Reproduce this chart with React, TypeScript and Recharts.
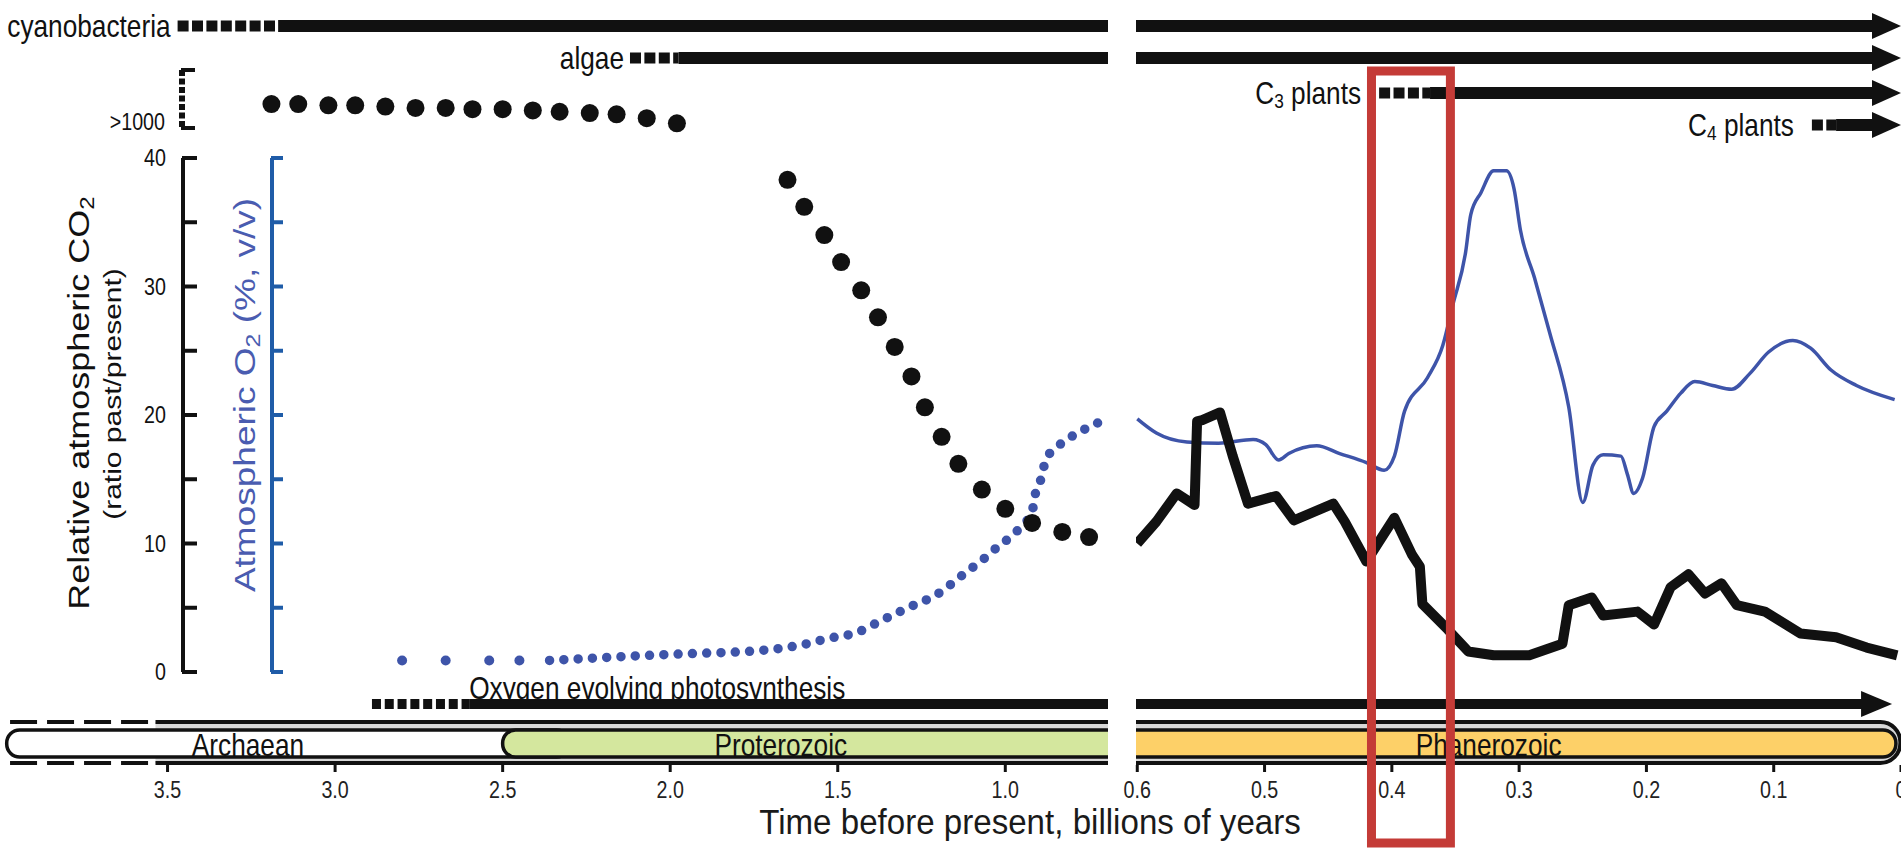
import { ComposedChart, LineChart, Line, Scatter, XAxis, YAxis, ReferenceLine, ReferenceArea, ReferenceDot, Label } from 'recharts'

const W = 1901
const H = 848
const SANS = "'Liberation Sans', Arial, Helvetica, sans-serif"
const SQUEEZE = 0.82 // the source figure is narrowed horizontally
const INK = '#111'
const O2_BLUE = '#3e54a9'
const AXIS_BLUE = '#1f5ca8'
const TITLE_BLUE = '#4a5cb0'
const RED = '#c43b37'
const GREEN = '#d4e79e'
const ORANGE = '#fdd068'
const BAND = '#d8d8d8'

// ---- data, time in billions of years before present ----

// Precambrian CO2 drawn above the axis break (">1000")
const co2HighTime = [3.19, 3.11, 3.02, 2.94, 2.85, 2.76, 2.67, 2.59, 2.5, 2.41, 2.33, 2.24, 2.16, 2.07, 1.98]
const co2HighPlot = [44.2, 44.2, 44.1, 44.1, 44.0, 43.9, 43.9, 43.8, 43.8, 43.7, 43.6, 43.5, 43.4, 43.1, 42.7]

// Precambrian CO2 decline (ratio past/present)
const co2DropTime = [1.65, 1.6, 1.54, 1.49, 1.43, 1.38, 1.33, 1.28, 1.24, 1.19, 1.14, 1.07, 1.0, 0.92, 0.83, 0.75]
const co2Drop = [38.3, 36.2, 34.0, 31.9, 29.7, 27.6, 25.3, 23.0, 20.6, 18.3, 16.2, 14.2, 12.7, 11.6, 10.9, 10.5]

// Precambrian O2 (%): scattered early points, then the rise
const o2EarlyTime = [2.8, 2.67, 2.54, 2.45]
const o2Early = [0.9, 0.9, 0.9, 0.9]
const o2RiseTime = [2.36, 2.06, 1.97, 1.72, 1.61, 1.53, 1.44, 1.37, 1.29, 1.2, 1.13, 1.06, 1.02, 0.98, 0.95, 0.92, 0.91, 0.89, 0.88, 0.85, 0.81, 0.77, 0.73, 0.71]
const o2Rise = [0.9, 1.3, 1.4, 1.7, 2.1, 2.6, 3.1, 4.0, 5.0, 6.1, 7.5, 8.9, 9.8, 10.6, 11.4, 12.5, 13.9, 15.3, 16.5, 17.4, 18.2, 18.8, 19.3, 19.6]

// Phanerozoic O2 (%)
const phanO2Time = [0.6, 0.585, 0.561, 0.536, 0.509, 0.499, 0.489, 0.481, 0.459, 0.441, 0.42, 0.406, 0.398, 0.39, 0.372, 0.36, 0.352, 0.342, 0.338, 0.33, 0.32, 0.31, 0.304, 0.299, 0.288, 0.276, 0.261, 0.25, 0.242, 0.234, 0.22, 0.215, 0.21, 0.203, 0.194, 0.184, 0.173, 0.162, 0.148, 0.133, 0.119, 0.104, 0.085, 0.071, 0.055, 0.035, 0.005]
const phanO2 = [19.7, 18.6, 17.9, 17.8, 18.1, 17.7, 16.5, 17.0, 17.6, 17.0, 16.3, 15.7, 16.8, 20.3, 22.9, 25.4, 28.6, 32.7, 35.6, 37.3, 39.0, 39.0, 37.6, 34.4, 30.7, 26.4, 20.6, 13.2, 16.1, 16.9, 16.8, 15.4, 13.9, 15.1, 19.1, 20.3, 21.7, 22.6, 22.3, 22.0, 23.2, 24.9, 25.8, 25.2, 23.5, 22.3, 21.2]

// Phanerozoic CO2 (ratio past/present)
const phanCo2Time = [0.6, 0.585, 0.569, 0.555, 0.553, 0.549, 0.535, 0.525, 0.513, 0.491, 0.477, 0.446, 0.437, 0.42, 0.411, 0.398, 0.384, 0.378, 0.376, 0.356, 0.34, 0.32, 0.292, 0.266, 0.261, 0.243, 0.234, 0.207, 0.194, 0.181, 0.167, 0.154, 0.141, 0.129, 0.107, 0.079, 0.051, 0.027, 0.003]
const phanCo2 = [10.0, 11.7, 13.9, 13.0, 19.5, 19.6, 20.2, 16.8, 13.1, 13.7, 11.8, 13.1, 11.7, 8.6, 10.0, 12.0, 9.1, 8.2, 5.3, 3.3, 1.6, 1.3, 1.3, 2.2, 5.2, 5.8, 4.4, 4.7, 3.7, 6.6, 7.6, 6.1, 6.9, 5.2, 4.7, 3.0, 2.7, 1.9, 1.3]

// lineages (dotted = uncertain origin, solid = present since)
const lineageNames = ['cyanobacteria', 'algae', 'C3 plants', 'C4 plants']
const lineageDottedFrom = [3.47, 2.12, 0.41, 0.07]
const lineageSolidFrom = [3.17, 1.975, 0.37, 0.051]
const oxyName = 'Oxygen evolving photosynthesis'
const oxyDottedFrom = 2.89
const oxySolidFrom = 2.6

const eonNames = ['Archaean', 'Proterozoic', 'Phanerozoic']
const eonFrom = [3.98, 2.5, 0.6]
const eonTo = [2.5, 0.6, 0.004]
const eonLabelAt = [3.26, 1.67, 0.324]

const leftTicks = [3.5, 3.0, 2.5, 2.0, 1.5, 1.0]
const rightTicks = [0.6, 0.5, 0.4, 0.3, 0.2, 0.1, 0]
const valueTicks = [0, 5, 10, 15, 20, 25, 30, 35, 40]
const highlight = [0.416, 0.354]

// ---- layout ----
const PLOT_H = 765
const Y_ZERO = 672
const Y_FORTY = 158
const PER = (Y_ZERO - Y_FORTY) / 40
const row = (px: number) => (Y_ZERO - px) / PER
const Y_DOMAIN: [number, number] = [row(PLOT_H), row(0)]

const LEFT_W = 1108
const LEFT_PER_GY = 335.1
const LEFT_DOMAIN: [number, number] = [4 - LEFT_W / LEFT_PER_GY, 4]
const RIGHT_SVG_X = 1110
const RIGHT_PAD = 26 // plot of the right panel starts at x = 1136
const RIGHT_W = W - RIGHT_SVG_X
const RIGHT_DOMAIN: [number, number] = [0, 0.601]

const CO2_AXIS_X = 183
const O2_AXIS_X = 272

const lineageRows = [row(26), row(58), row(93), row(125)]
const lineageGap = [7, 6, 18, 18]
const oxyRow = row(704)
const frame = { outerTop: row(722), innerTop: row(730), innerBottom: row(757), outerBottom: row(763) }
const eonLabelRow = row(756)
const FRAME_DASH_FROM = 3.97
const FRAME_SOLID_FROM = 3.536
const ARROW_TAIL = 0.02
const OXY_TAIL = 0.028

const pts = (t: number[], v: number[]) => t.map((x, i) => ({ t: x, v: v[i] }))
const fmtTime = (v: number) => (v === 0 ? '0' : v.toFixed(1))

function span(from: number, to: number, [lo, hi]: [number, number]) {
  const a = Math.min(from, hi)
  const b = Math.max(to, lo)
  return a > b ? [a, b] : null
}
const inside = (t: number, [lo, hi]: [number, number]) => t >= lo && t <= hi

// horizontal text, narrowed like the source
function Txt({ x, y, size, anchor = 'start', fill = INK, baseline, squeeze = SQUEEZE, children }: any) {
  return (
    <text
      transform={`translate(${x} ${y}) scale(${squeeze} 1)`}
      textAnchor={anchor}
      dominantBaseline={baseline}
      fontFamily={SANS}
      fontSize={size}
      fill={fill}
    >
      {children}
    </text>
  )
}

// vertical text reading upwards, glyphs narrowed across
function VTxt({ x, y, size, fill = INK, children }: any) {
  return (
    <text transform={`translate(${x} ${y}) rotate(-90) scale(1 ${SQUEEZE})`} textAnchor="middle" fontFamily={SANS} fontSize={size} fill={fill}>
      {children}
    </text>
  )
}

const dot = (r: number, fill: string) => (p: any) => <circle cx={p.cx} cy={p.cy} r={r} fill={fill} />

const roundBox = (rx: number, fill: string, sw: number) => (p: any) => (
  <rect x={p.x} y={p.y} width={p.width} height={p.height} rx={rx} ry={rx} fill={fill} stroke={INK} strokeWidth={sw} />
)

// bar with separately rounded ends; a flat end (radius 0) is left open, as where the panels break
const capsule = (fill: string, sw: number, rl: number, rr: number) => (p: any) => {
  const { x, y } = p
  const w = p.width
  const h = p.height
  const L = Math.min(rl, h / 2)
  const R = Math.min(rr, h / 2)
  const body =
    `M${x + L},${y} H${x + w - R}` +
    (R ? ` A${R},${R} 0 0 1 ${x + w},${y + R} V${y + h - R} A${R},${R} 0 0 1 ${x + w - R},${y + h}` : ` V${y + h}`) +
    ` H${x + L}` +
    (L ? ` A${L},${L} 0 0 1 ${x},${y + h - L} V${y + L} A${L},${L} 0 0 1 ${x + L},${y}` : ` V${y}`) +
    ' Z'
  let edge = L ? `M${x},${y + h - L} V${y + L} A${L},${L} 0 0 1 ${x + L},${y}` : `M${x},${y}`
  edge += ` H${x + w - R}`
  edge += R ? ` A${R},${R} 0 0 1 ${x + w},${y + R} V${y + h - R} A${R},${R} 0 0 1 ${x + w - R},${y + h}` : ` M${x + w},${y + h}`
  edge += ` H${x + L}`
  if (L) edge += ` A${L},${L} 0 0 1 ${x},${y + h - L}`
  return (
    <g>
      <path d={body} fill={fill} stroke="none" />
      {sw ? <path d={edge} fill="none" stroke={INK} strokeWidth={sw} /> : null}
    </g>
  )
}

const arrowHead = (len: number, half: number) => (p: any) => (
  <polygon points={`${p.cx},${p.cy} ${p.cx - len},${p.cy - half} ${p.cx - len},${p.cy + half}`} fill={INK} />
)

const sideLabel = (name: string, gap: number) => (p: any) => {
  const m = /^C(\d) (.+)$/.exec(name)
  return (
    <Txt x={p.cx - gap} y={p.cy} size={32} anchor="end" baseline="central">
      {m ? (
        <>
          C<tspan fontSize={21} dy={7}>{m[1]}</tspan>
          <tspan dy={-7}>{' ' + m[2]}</tspan>
        </>
      ) : (
        name
      )}
    </Txt>
  )
}

const eonLabel = (name: string) => (p: any) => (
  <Txt x={p.cx} y={p.cy} size={32} anchor="middle">
    {name}
  </Txt>
)

const oxyLabel = (p: any) => (
  <Txt x={p.cx} y={p.cy - 16} size={32} baseline="central">
    {oxyName}
  </Txt>
)

const timeTick = (p: any) => (
  <Txt x={p.x} y={p.y + 18} size={24} anchor="middle" fill="#222">
    {fmtTime(p.payload.value)}
  </Txt>
)

const XTitle = () => (
  <Txt x={1030} y={834} size={36} anchor="middle" fill="#1a1a1a" squeeze={0.92}>
    Time before present, billions of years
  </Txt>
)

function hline(key: string, a: number, b: number, y: number, width: number, dash?: string) {
  return (
    <ReferenceLine
      key={key}
      segment={[{ x: a, y }, { x: b, y }]}
      stroke={INK}
      strokeWidth={width}
      strokeDasharray={dash}
      ifOverflow="visible"
    />
  )
}

function lineageMarks(domain: [number, number], heads: boolean) {
  const out: any[] = []
  lineageNames.forEach((name, i) => {
    const y = lineageRows[i]
    const dotted = span(lineageDottedFrom[i], lineageSolidFrom[i], domain)
    const solid = span(lineageSolidFrom[i], ARROW_TAIL, domain)
    if (dotted) out.push(hline(`ld${i}`, dotted[0], dotted[1], y, 11, '11 3.4'))
    if (solid) out.push(hline(`ls${i}`, solid[0], solid[1], y, 12))
    if (inside(lineageDottedFrom[i], domain))
      out.push(<ReferenceDot key={`ll${i}`} x={lineageDottedFrom[i]} y={y} r={1} ifOverflow="visible" shape={sideLabel(name, lineageGap[i])} />)
    if (heads) out.push(<ReferenceDot key={`lh${i}`} x={0} y={y} r={1} ifOverflow="visible" shape={arrowHead(29, 13)} />)
  })
  const od = span(oxyDottedFrom, oxySolidFrom, domain)
  const os = span(oxySolidFrom, OXY_TAIL, domain)
  if (od) out.push(hline('od', od[0], od[1], oxyRow, 10, '9 3.8'))
  if (os) out.push(hline('os', os[0], os[1], oxyRow, 10))
  if (inside(oxySolidFrom, domain))
    out.push(<ReferenceDot key="ol" x={oxySolidFrom} y={oxyRow} r={1} ifOverflow="visible" shape={oxyLabel} />)
  if (heads) out.push(<ReferenceDot key="oh" x={0.007} y={oxyRow} r={1} ifOverflow="visible" shape={arrowHead(31, 13)} />)
  return out
}

function timeAxis(domain: [number, number], ticks: number[], withTitle: boolean) {
  return (
    <XAxis
      type="number"
      dataKey="t"
      domain={domain}
      reversed
      allowDataOverflow
      ticks={ticks}
      interval={0}
      height={H - PLOT_H}
      axisLine={false}
      tickLine={{ stroke: INK, strokeWidth: 3 }}
      tickSize={7}
      tickMargin={8}
      tick={timeTick}
      label={withTitle ? <Label content={XTitle} /> : undefined}
    />
  )
}

function LeftPanel() {
  return (
    <ComposedChart width={W} height={H} margin={{ top: 0, right: W - LEFT_W, bottom: 0, left: 0 }}>
      {timeAxis(LEFT_DOMAIN, leftTicks, true)}
      <YAxis hide type="number" dataKey="v" domain={Y_DOMAIN} allowDataOverflow />

      <ReferenceArea x1={FRAME_SOLID_FROM} x2={LEFT_DOMAIN[0]} y1={frame.outerTop} y2={frame.outerBottom} ifOverflow="visible" shape={capsule(BAND, 0, 0, 0)} />
      <ReferenceArea x1={eonFrom[0]} x2={eonTo[0] - 0.2} y1={frame.innerTop} y2={frame.innerBottom} ifOverflow="visible" shape={roundBox(13, '#fff', 3.5)} />
      <ReferenceArea x1={eonFrom[1]} x2={LEFT_DOMAIN[0]} y1={frame.innerTop} y2={frame.innerBottom} ifOverflow="visible" shape={capsule(GREEN, 3.5, 13, 0)} />
      {hline('ft0', FRAME_DASH_FROM, FRAME_SOLID_FROM, frame.outerTop, 4, '27 10')}
      {hline('fb0', FRAME_DASH_FROM, FRAME_SOLID_FROM, frame.outerBottom, 4, '27 10')}
      {hline('ft1', FRAME_SOLID_FROM, LEFT_DOMAIN[0], frame.outerTop, 4)}
      {hline('fb1', FRAME_SOLID_FROM, LEFT_DOMAIN[0], frame.outerBottom, 4)}
      <ReferenceDot x={eonLabelAt[0]} y={eonLabelRow} r={1} ifOverflow="visible" shape={eonLabel(eonNames[0])} />
      <ReferenceDot x={eonLabelAt[1]} y={eonLabelRow} r={1} ifOverflow="visible" shape={eonLabel(eonNames[1])} />

      {lineageMarks(LEFT_DOMAIN, false)}

      <Line data={pts(o2RiseTime, o2Rise)} dataKey="v" type="monotone" stroke={O2_BLUE} strokeWidth={9.5} strokeLinecap="round" strokeDasharray="0 14.3" dot={false} activeDot={false} isAnimationActive={false} />
      <Scatter data={pts(o2EarlyTime, o2Early)} shape={dot(5, O2_BLUE)} isAnimationActive={false} />
      <Scatter data={pts(co2HighTime, co2HighPlot)} shape={dot(9, INK)} isAnimationActive={false} />
      <Scatter data={pts(co2DropTime, co2Drop)} shape={dot(9, INK)} isAnimationActive={false} />
    </ComposedChart>
  )
}

function RightPanel() {
  return (
    <ComposedChart width={RIGHT_W} height={H} margin={{ top: 0, right: 0, bottom: 0, left: RIGHT_PAD }}>
      {timeAxis(RIGHT_DOMAIN, rightTicks, false)}
      <YAxis hide type="number" dataKey="v" domain={Y_DOMAIN} allowDataOverflow />

      <ReferenceArea x1={RIGHT_DOMAIN[1]} x2={0.0005} y1={frame.outerTop} y2={frame.outerBottom} ifOverflow="visible" shape={capsule(BAND, 4, 0, 20)} />
      <ReferenceArea x1={RIGHT_DOMAIN[1]} x2={eonTo[2]} y1={frame.innerTop} y2={frame.innerBottom} ifOverflow="visible" shape={capsule(ORANGE, 3.5, 0, 13)} />
      <ReferenceDot x={eonLabelAt[2]} y={eonLabelRow} r={1} ifOverflow="visible" shape={eonLabel(eonNames[2])} />

      {lineageMarks(RIGHT_DOMAIN, true)}

      <Line data={pts(phanO2Time, phanO2)} dataKey="v" type="monotone" stroke={O2_BLUE} strokeWidth={3.5} dot={false} activeDot={false} isAnimationActive={false} />
      <Line data={pts(phanCo2Time, phanCo2)} dataKey="v" type="linear" stroke={INK} strokeWidth={10} strokeLinejoin="round" dot={false} activeDot={false} isAnimationActive={false} />

      <ReferenceArea x1={highlight[0]} x2={highlight[1]} y1={row(71)} y2={row(843)} ifOverflow="visible" fill="none" stroke={RED} strokeWidth={9} zIndex={1500} />
    </ComposedChart>
  )
}

const Co2Title = () => (
  <g>
    <VTxt x={89} y={403} size={36}>
      Relative atmospheric CO<tspan fontSize={24} dy={6}>2</tspan>
    </VTxt>
    <VTxt x={121} y={394} size={30}>
      (ratio past/present)
    </VTxt>
  </g>
)

const O2Title = () => (
  <VTxt x={255} y={395} size={37} fill={TITLE_BLUE}>
    Atmospheric O<tspan fontSize={25} dy={6}>2</tspan>
    <tspan dy={-6}> (%, v/v)</tspan>
  </VTxt>
)

// tick mark pointing into the plot, with an optional label on the outer side
const axisTick = (axisX: number, len: number, color: string, label: (v: number) => string, dy = 0) => (p: any) => {
  const v = p.payload.value
  const text = label(v)
  return (
    <g>
      <line x1={axisX - 1} x2={axisX + len} y1={p.y} y2={p.y} stroke={color} strokeWidth={4} />
      {text ? (
        <Txt x={axisX - 17} y={p.y + dy} size={24} anchor="end" baseline="central">
          {text}
        </Txt>
      ) : null}
    </g>
  )
}

function Co2Axis() {
  return (
    <LineChart width={CO2_AXIS_X + 20} height={H} margin={{ top: Y_FORTY, bottom: H - Y_ZERO, left: 0, right: 0 }}>
      <XAxis hide />
      <YAxis
        type="number"
        width={CO2_AXIS_X}
        domain={[0, 40]}
        ticks={valueTicks}
        interval={0}
        allowDataOverflow
        axisLine={{ stroke: INK, strokeWidth: 4 }}
        tickLine={false}
        tickSize={0}
        tickMargin={0}
        tick={axisTick(CO2_AXIS_X, 14, INK, (v) => (v % 10 === 0 ? String(v) : ''))}
        label={<Label content={Co2Title} />}
      />
    </LineChart>
  )
}

function BreakAxis() {
  return (
    <LineChart width={CO2_AXIS_X + 20} height={H} margin={{ top: 70, bottom: H - 128, left: 0, right: 0 }}>
      <XAxis hide />
      <YAxis
        type="number"
        width={CO2_AXIS_X - 1}
        domain={[0, 1]}
        ticks={[0, 1]}
        interval={0}
        allowDataOverflow
        axisLine={{ stroke: INK, strokeWidth: 6, strokeDasharray: '6 2.5' }}
        tickLine={false}
        tickSize={0}
        tickMargin={0}
        tick={axisTick(CO2_AXIS_X - 1, 13, INK, (v) => (v === 0 ? '>1000' : ''), -6)}
      />
    </LineChart>
  )
}

function O2Axis() {
  return (
    <LineChart width={O2_AXIS_X + 16} height={H} margin={{ top: Y_FORTY, bottom: H - Y_ZERO, left: 0, right: 0 }}>
      <XAxis hide />
      <YAxis
        type="number"
        width={O2_AXIS_X}
        domain={[0, 40]}
        ticks={valueTicks}
        interval={0}
        allowDataOverflow
        axisLine={{ stroke: AXIS_BLUE, strokeWidth: 4 }}
        tickLine={false}
        tickSize={0}
        tickMargin={0}
        tick={axisTick(O2_AXIS_X, 11, AXIS_BLUE, () => '')}
        label={<Label content={O2Title} />}
      />
    </LineChart>
  )
}

export default function App() {
  const layer = { position: 'absolute' as const, left: 0, top: 0 }
  return (
    <div style={{ position: 'absolute', left: 0, top: 0, width: W, height: H, background: '#fff', overflow: 'hidden' }}>
      <div style={layer}>
        <LeftPanel />
      </div>
      <div style={{ ...layer, left: RIGHT_SVG_X }}>
        <RightPanel />
      </div>
      <div style={layer}>
        <O2Axis />
      </div>
      <div style={layer}>
        <Co2Axis />
      </div>
      <div style={layer}>
        <BreakAxis />
      </div>
    </div>
  )
}
